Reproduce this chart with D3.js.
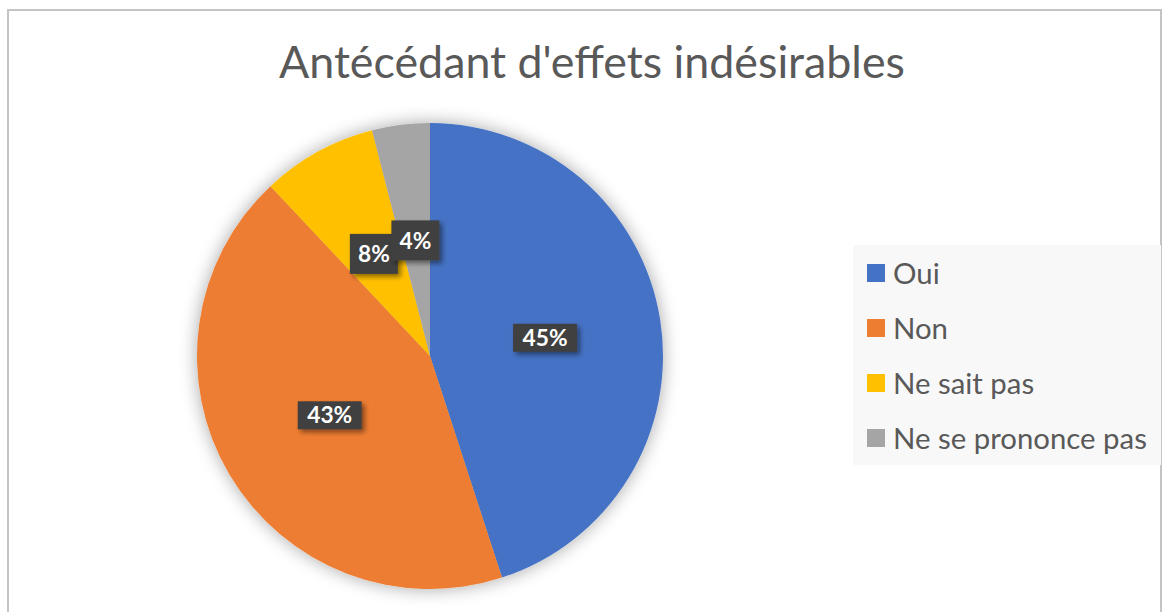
<!DOCTYPE html>
<html lang="fr">
<head>
<meta charset="UTF-8">
<title>Antécédant d'effets indésirables</title>
<script src="https://d3js.org/d3.v7.min.js"></script>
<style>
  body { margin: 0; background: #fff; }
  svg { display: block; font-family: Lato, "Open Sans", sans-serif; }
</style>
</head>
<body>
<svg id="chart" width="1163" height="612"></svg>
<script>
// donnees
var categories = ["Oui", "Non", "Ne sait pas", "Ne se prononce pas"];
var valeurs = [45, 43, 8, 4];
var couleurs = ["#4472C4", "#ED7D31", "#FFC000", "#A5A5A5"];
var titre = "Antécédant d'effets indésirables";

var svg = d3.select("#chart"),
    cx = 430, cy = 356, r = 233;

var defs = svg.append("defs");
// ombre douce autour du camembert
var f1 = defs.append("filter").attr("id", "glow")
  .attr("x", "-20%").attr("y", "-20%").attr("width", "140%").attr("height", "140%");
f1.append("feGaussianBlur").attr("in", "SourceAlpha").attr("stdDeviation", 9).attr("result", "b");
f1.append("feComponentTransfer").attr("in", "b").attr("result", "c")
  .append("feFuncA").attr("type", "linear").attr("slope", 0.35);
var m1 = f1.append("feMerge");
m1.append("feMergeNode").attr("in", "c");
m1.append("feMergeNode").attr("in", "SourceGraphic");

// ombre des etiquettes
var f2 = defs.append("filter").attr("id", "ombre")
  .attr("x", "-30%").attr("y", "-30%").attr("width", "160%").attr("height", "160%");
f2.append("feGaussianBlur").attr("in", "SourceAlpha").attr("stdDeviation", 2.5).attr("result", "b");
f2.append("feOffset").attr("in", "b").attr("dx", 3).attr("dy", 3).attr("result", "o");
f2.append("feComponentTransfer").attr("in", "o").attr("result", "c")
  .append("feFuncA").attr("type", "linear").attr("slope", 0.45);
var m2 = f2.append("feMerge");
m2.append("feMergeNode").attr("in", "c");
m2.append("feMergeNode").attr("in", "SourceGraphic");

// cadre
svg.append("rect")
  .attr("x", 8).attr("y", 10).attr("width", 1153).attr("height", 700)
  .attr("fill", "#fff").attr("stroke", "#c4c4c4").attr("stroke-width", 2);

// titre
var t = svg.append("text")
  .attr("x", 592).attr("y", 78)
  .attr("text-anchor", "middle")
  .attr("fill", "#595959")
  .attr("font-size", 46)
  .text(titre);
var w = t.node().getComputedTextLength();
t.attr("font-size", 46 * 626 / w);

var color = d3.scaleOrdinal().domain(categories).range(couleurs);

var pie = d3.pie().sort(null).value(function (d) { return d.v; });
var data = categories.map(function (c, i) { return { cat: c, v: valeurs[i] }; });
var arcs = pie(data);
var arc = d3.arc().innerRadius(0).outerRadius(r);
var arcLabel = d3.arc().innerRadius(r / 2).outerRadius(r / 2);

var g = svg.append("g").attr("transform", "translate(" + cx + "," + cy + ")");
g.append("g").attr("filter", "url(#glow)")
  .selectAll("path").data(arcs).enter().append("path")
  .attr("d", arc)
  .attr("fill", function (d) { return color(d.data.cat); });

// etiquettes
var lab = g.selectAll("g.lab").data(arcs).enter().append("g")
  .attr("class", "lab")
  .attr("transform", function (d) { return "translate(" + arcLabel.centroid(d) + ")"; });
lab.append("rect")
  .attr("filter", "url(#ombre)")
  .attr("fill", "#404040")
  .attr("x", function (d) { return d.data.v < 10 ? -24 : -32; })
  .attr("y", function (d) { return d.data.v < 10 ? -20 : -14; })
  .attr("width", function (d) { return d.data.v < 10 ? 48 : 64; })
  .attr("height", function (d) { return d.data.v < 10 ? 40 : 28; });
var lt = lab.append("text")
  .attr("text-anchor", "middle")
  .attr("dy", "0.36em")
  .attr("fill", "#fff")
  .attr("font-weight", "bold")
  .attr("font-size", 20)
  .text(function (d) { return d.data.v + "%"; });
var lw = lt.node().getComputedTextLength();
lt.attr("font-size", 20 * 45 / lw);

// legende
var leg = svg.append("g").attr("transform", "translate(853,245)");
leg.append("rect").attr("width", 308).attr("height", 220).attr("fill", "#f8f8f8");
var items = leg.selectAll("g.item").data(categories).enter().append("g")
  .attr("class", "item")
  .attr("transform", function (d, i) { return "translate(14," + (28 + i * 55) + ")"; });
items.append("rect")
  .attr("x", 0).attr("y", -9).attr("width", 18).attr("height", 18)
  .attr("fill", function (d) { return color(d); });
var tt = items.append("text")
  .attr("x", 26).attr("dy", "0.36em")
  .attr("fill", "#595959")
  .attr("font-size", 27)
  .text(function (d) { return d; });
var lg = tt.nodes()[3].getComputedTextLength();
tt.attr("font-size", 27 * 254 / lg);
</script>
</body>
</html>
